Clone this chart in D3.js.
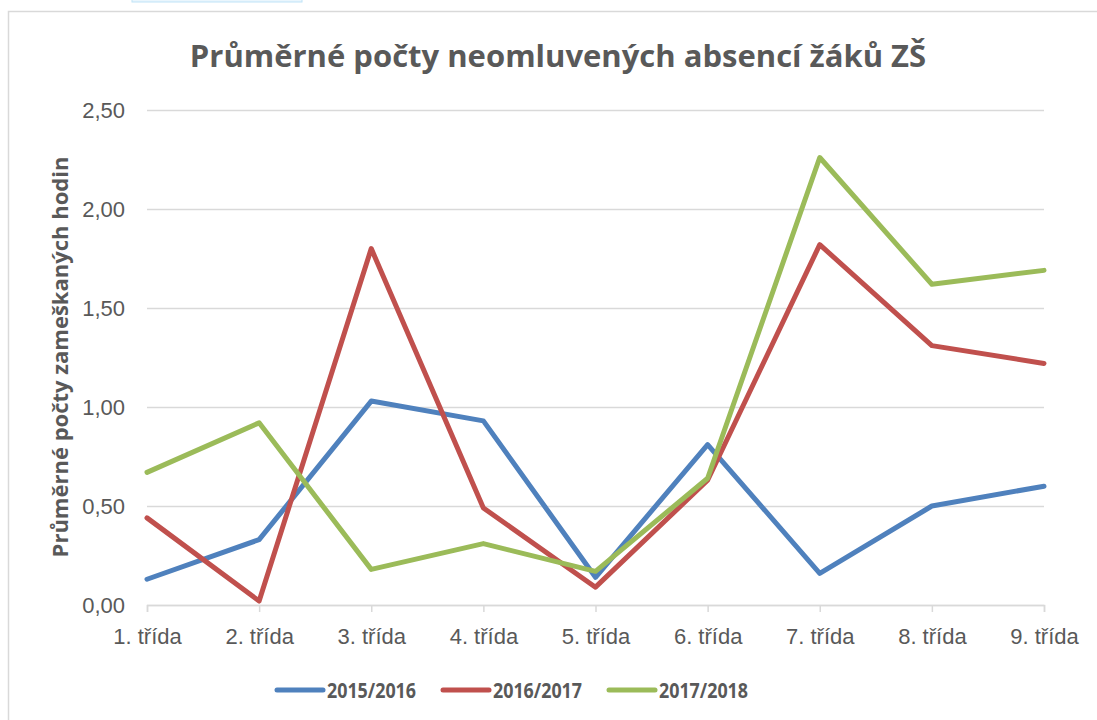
<!DOCTYPE html>
<html>
<head>
<meta charset="utf-8">
<script src="https://cdn.jsdelivr.net/npm/d3@7"></script>
<style>
  body { margin: 0; background: #fff; }
  svg { display: block; font-family: "Open Sans", "Liberation Sans", sans-serif; }
</style>
</head>
<body>
<div class="chart-wrapper"></div>
<script>
// data
const categories = ['1. třída', '2. třída', '3. třída', '4. třída', '5. třída', '6. třída', '7. třída', '8. třída', '9. třída'];
const seriesNames = ['2015/2016', '2016/2017', '2017/2018'];
const values2015 = [0.13, 0.33, 1.03, 0.93, 0.14, 0.81, 0.16, 0.50, 0.60];
const values2016 = [0.44, 0.02, 1.80, 0.49, 0.09, 0.63, 1.82, 1.31, 1.22];
const values2017 = [0.67, 0.92, 0.18, 0.31, 0.17, 0.64, 2.26, 1.62, 1.69];
const yTicks = [0, 0.5, 1, 1.5, 2, 2.5];

const colors = ['#4f81bd', '#c0504d', '#9bbb59'];
const textColor = '#595959';
const gridColor = '#d9d9d9';

let width = 1097;
let height = 720;

let plot = {left: 147, right: 1044, top: 110, bottom: 605};

const czLocale = d3.formatLocale({decimal: ',', thousands: ' ', grouping: [3], currency: ['', ' Kč']});
const fmt = czLocale.format('.2f');

let series = [values2015, values2016, values2017].map((vals, i) => ({
	name: seriesNames[i],
	color: colors[i],
	values: vals.map((v, j) => ({cat: categories[j], value: v}))
}));

let svg = d3.select('.chart-wrapper')
.append('svg')
.attr('width', width)
.attr('height', height);

// leftover bits of the page around the chart
svg.append('rect')
.attr('x', 132).attr('y', -2).attr('width', 170).attr('height', 4)
.attr('fill', '#eaf6fd').attr('stroke', '#bfe3f7').attr('stroke-width', 1);

svg.append('rect')
.attr('x', 8.5).attr('y', 11.5).attr('width', 1200).attr('height', 800)
.attr('fill', '#fff').attr('stroke', gridColor).attr('stroke-width', 1.5);

let x = d3.scalePoint()
.domain(categories)
.range([plot.left, plot.right]);

let y = d3.scaleLinear()
.domain([0, 2.5])
.range([plot.bottom, plot.top]);

// gridlines + y labels
let yAxis = svg.append('g')
.attr('class', 'y-axis')
.attr('transform', 'translate(' + plot.left + ',0)')
.call(d3.axisLeft(y)
	.tickValues(yTicks)
	.tickFormat(fmt)
	.tickSize(-(plot.right - plot.left))
	.tickPadding(22));

yAxis.select('.domain').remove();
yAxis.selectAll('.tick line').attr('stroke', gridColor).attr('stroke-width', 1.5);
yAxis.selectAll('.tick text')
.attr('fill', textColor)
.style('font-size', '22px');

// x axis
let xAxis = svg.append('g')
.attr('class', 'x-axis')
.attr('transform', 'translate(0,' + plot.bottom + ')')
.call(d3.axisBottom(x).tickSize(7).tickPadding(16));

xAxis.select('.domain').attr('stroke', gridColor).attr('stroke-width', 1.5);
xAxis.selectAll('.tick line').attr('stroke', gridColor).attr('stroke-width', 1.5);
xAxis.selectAll('.tick text')
.attr('fill', textColor)
.style('font-size', '22px');

// lines
let line = d3.line()
.x(d => x(d.cat))
.y(d => y(d.value));

svg.append('g')
.attr('class', 'lines')
.selectAll('path')
.data(series)
.join('path')
.attr('fill', 'none')
.attr('stroke', d => d.color)
.attr('stroke-width', 5)
.attr('stroke-linejoin', 'round')
.attr('stroke-linecap', 'round')
.attr('d', d => line(d.values));

// title
svg.append('text')
.attr('x', 558)
.attr('y', 67)
.attr('text-anchor', 'middle')
.attr('fill', textColor)
.style('font-size', '31px')
.style('font-weight', 'bold')
.text('Průměrné počty neomluvených absencí žáků ZŠ');

// y axis title
svg.append('text')
.attr('transform', 'translate(68,357) rotate(-90)')
.attr('text-anchor', 'middle')
.attr('fill', textColor)
.style('font-size', '22px')
.style('font-weight', 'bold')
.text('Průměrné počty zameškaných hodin');

// legend
let legendX = [277, 443, 609];
let legend = svg.append('g')
.attr('class', 'legend')
.selectAll('g')
.data(series)
.join('g')
.attr('transform', (d, i) => 'translate(' + legendX[i] + ',690)');

legend.append('line')
.attr('x1', 0).attr('x2', 46)
.attr('stroke', d => d.color)
.attr('stroke-width', 5)
.attr('stroke-linecap', 'round');

legend.append('text')
.attr('x', 50)
.attr('dy', '0.35em')
.attr('fill', textColor)
.attr('textLength', 89)
.attr('lengthAdjust', 'spacingAndGlyphs')
.style('font-size', '22px')
.style('font-weight', 'bold')
.text(d => d.name);
</script>
</body>
</html>
